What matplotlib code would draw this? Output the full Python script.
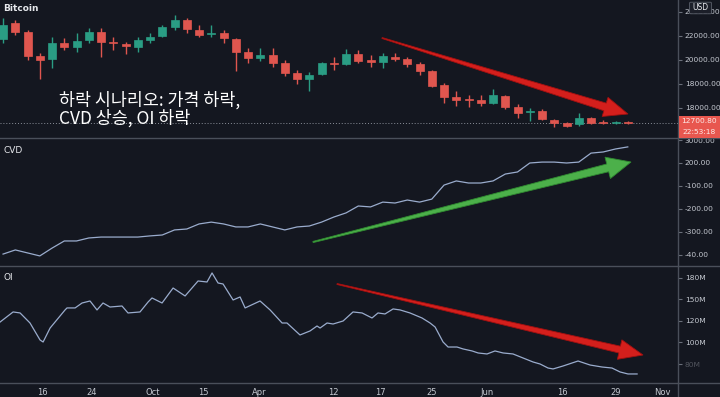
import matplotlib
matplotlib.use("Agg")
import matplotlib.pyplot as plt
from matplotlib.patches import Rectangle, Polygon, FancyBboxPatch
import numpy as np

# ---- data ----
# candles: open, high, low, close
opens = [21750, 23083, 22333, 20333, 20083, 21417, 21083, 21667, 22333, 21500,
         21333, 21083, 21667, 22000, 22750, 23333, 22500, 22170, 22250, 21750,
         20667, 20167, 20417, 19750, 18917, 18417, 18833, 19750, 19667, 20500,
         20000, 19833, 20250, 20083, 19667, 19083, 17917, 16917, 16750, 16667,
         16417, 17000, 16083, 15667, 15750, 15000, 14750, 14667, 15167, 14833,
         14750, 14833]
highs = [23500, 23333, 22500, 20583, 21917, 21833, 22250, 22667, 22667, 21917,
         21500, 21917, 22250, 22917, 23750, 23500, 22917, 22917, 22500, 21833,
         21000, 21000, 21000, 20000, 19167, 19000, 19833, 20250, 20917, 20833,
         20417, 20583, 20583, 20250, 19833, 19167, 18083, 17417, 17083, 17083,
         17583, 17083, 16333, 16000, 15917, 15083, 14833, 15583, 15250, 15000,
         14917, 14917]
lows = [21417, 22083, 20000, 18417, 19333, 20833, 20667, 21417, 20250, 20833,
        20500, 20667, 21417, 21917, 22500, 22250, 21917, 21917, 21417, 19083,
        19750, 19917, 19417, 18667, 18000, 17417, 18750, 19167, 19583, 19750,
        19417, 19333, 19917, 19417, 18750, 17750, 16417, 16167, 16083, 16167,
        16333, 15917, 15167, 14917, 15000, 14417, 14417, 14500, 14667, 14667,
        14667, 14667]
closes = [22917, 22333, 20333, 20000, 21417, 21083, 21583, 22333, 21500, 21417,
          21167, 21667, 21917, 22750, 23333, 22583, 22083, 22250, 21833, 20667,
          20167, 20417, 19750, 18917, 18417, 18750, 19750, 19667, 20500, 19917,
          19833, 20333, 20083, 19667, 19083, 17833, 16917, 16667, 16667, 16417,
          17083, 16083, 15583, 15750, 15083, 14750, 14500, 15167, 14750, 14750,
          14833, 14750]

cvd = [-196, -178, -191, -204, -170, -139, -139, -126, -122, -122,
       -122, -122, -117, -113, -91, -87, -65, -57, -65, -78,
       -78, -65, -78, -91, -78, -74, -57, -35, -17, 13,
       9, 30, 26, 39, 30, 43, 104, 122, 113, 113,
       122, 152, 161, 200, 204, 204, 200, 204, 243, 248,
       261, 270]

oi_t = [-0.24, 0.82, 1.39, 2.20, 3.02, 3.27, 3.84, 5.06, 5.22, 5.88,
        6.45, 7.10, 7.67, 8.16, 8.73, 9.71, 10.20, 11.18, 11.84, 12.16,
        12.98, 13.88, 14.86, 15.92, 16.65, 17.06, 17.55, 17.96, 18.78, 19.35,
        19.76, 20.98, 21.80, 22.78, 23.18, 24.24, 25.06, 25.63, 25.88, 26.45,
        26.94, 27.76, 28.57, 29.31, 30.12, 30.61, 31.18, 31.84, 32.41, 33.22,
        34.20, 34.86, 35.27, 35.92, 36.33, 37.06, 37.55, 38.29, 38.78, 39.51,
        40.16, 40.82, 41.63, 42.45, 43.27, 43.84, 44.49, 44.90, 45.71, 46.94,
        47.92, 48.90, 49.71, 50.37, 51.02, 51.76]
oi = [118.6, 132.6, 131.2, 117.2, 93.5, 90.7, 110.2, 135.4, 138.2, 138.2,
      145.1, 147.9, 135.4, 145.1, 139.5, 140.9, 131.2, 132.6, 146.5, 152.1,
      145.1, 166.0, 154.9, 175.8, 174.4, 187.0, 173.0, 171.6, 149.3, 153.5,
      138.2, 147.9, 135.4, 117.2, 117.2, 100.5, 106.1, 113.0, 110.2, 117.2,
      115.8, 120.0, 132.6, 131.2, 124.2, 131.2, 129.8, 136.8, 135.4, 131.2,
      124.2, 117.2, 111.6, 90.7, 83.7, 83.7, 81.0, 78.2, 75.4, 74.0,
      78.2, 75.4, 74.0, 68.4, 62.8, 60.0, 54.4, 53.1, 57.2, 64.2,
      58.6, 55.8, 54.4, 48.9, 46.1, 46.1]

x_ticks = [3.18, 7.27, 12.24, 16.33, 20.9, 26.94, 30.78, 35.02, 39.51, 45.63, 50.04, 53.8]
x_labels = ["16", "24", "Oct", "15", "Apr", "12", "17", "25", "Jun", "16", "29", "Nov"]

price_ticks = [24000, 22000, 20000, 18000, 16000]
price_labels = ["20000.00", "22000.00", "20000.00", "18000.00", "18000.00"]
cvd_ticks = [300, 200, 100, 0, -100, -200]
cvd_labels = ["3000.00", "200.00", "-100.00", "-200.00", "-300.00", "-40.00"]
oi_ticks = [180, 150, 120, 90, 60]
oi_labels = ["180M", "150M", "120M", "100M", "80M"]

title_text = "하락 시나리오: 가격 하락,\nCVD 상승, OI 하락"

# ---- style ----
BG = "#141720"
TXT = "#c4c8d0"
GREEN = "#2a9d84"
RED = "#e0564f"
LINE = "#9aaccd"
DIV = "#4a4f5a"
W, H = 720, 397


def px(x, y):
    return (x / W, 1 - y / H)


def make_ax(fig, y0, y1):
    ax = fig.add_axes([0, 1 - y1 / H, 678 / W, (y1 - y0) / H])
    ax.set_facecolor(BG)
    for s in ax.spines.values():
        s.set_visible(False)
    ax.yaxis.tick_right()
    ax.tick_params(axis="y", colors="#6a6f7a", labelcolor=TXT, labelsize=5.4, length=3, pad=2)
    ax.tick_params(axis="x", bottom=False, labelbottom=False)
    ax.set_xlim(-0.25, 55.1)
    return ax


def arrow(fig, tail, tip, w0, w1, hw, hl, color, edge):
    t = np.array(tail, float)
    p = np.array(tip, float)
    d = (p - t) / np.linalg.norm(p - t)
    n = np.array([-d[1], d[0]])
    b = p - d * hl
    pts = [t + n * w0 / 2, b + n * w1 / 2, b + n * hw / 2, p,
           b - n * hw / 2, b - n * w1 / 2, t - n * w0 / 2]
    pts = [px(q[0], q[1]) for q in pts]
    fig.add_artist(Polygon(pts, closed=True, transform=fig.transFigure,
                           facecolor=color, edgecolor=edge, lw=0.6, zorder=20))


fig = plt.figure(figsize=(7.2, 3.97), dpi=100)
fig.patch.set_facecolor(BG)

# price panel
ax1 = make_ax(fig, 0, 137)
idx = np.arange(len(opens))
o = np.array(opens); c = np.array(closes)
cols = [GREEN if cc >= oo else RED for oo, cc in zip(o, c)]
ax1.vlines(idx, lows, highs, colors=cols, lw=1)
body = np.maximum(np.abs(c - o), 40)
ax1.bar(idx, body, bottom=np.minimum(o, c), width=0.65, color=cols,
        edgecolor=cols, lw=0.5, zorder=3)
ax1.set_ylim(13583, 25000)
ax1.set_yticks(price_ticks)
ax1.set_yticklabels(price_labels)
ax1.axhline(closes[-1], color="#8a8f99", lw=0.7, ls=(0, (1, 2)))
ax1.text(0.005, 0.94, "Bitcoin", transform=ax1.transAxes, color="#e6e8ec",
         fontsize=6.5, fontweight="bold", va="center")
ax1.text(59 / 678, 1 - 91 / 137, title_text, transform=ax1.transAxes,
         color="white", fontsize=12.5, fontweight="medium", va="top", linespacing=1.0,
         family=["Noto Sans CJK KR", "DejaVu Sans"], zorder=10)

# CVD panel
ax2 = make_ax(fig, 138, 265)
ax2.plot(idx, cvd, color=LINE, lw=0.9)
ax2.set_ylim(-243.5, 308.7)
ax2.set_yticks(cvd_ticks)
ax2.set_yticklabels(cvd_labels)
ax2.text(0.005, 0.9, "CVD", transform=ax2.transAxes, color="#e6e8ec", fontsize=6.5, va="center")

# OI panel
ax3 = make_ax(fig, 266, 382)
ax3.plot(oi_t, oi, color=LINE, lw=0.9)
ax3.set_ylim(34.9, 196.7)
ax3.set_yticks(oi_ticks)
ax3.set_yticklabels(oi_labels)
ax3.get_yticklabels()[-1].set_alpha(0.35)
ax3.text(0.005, 0.9, "OI", transform=ax3.transAxes, color="#e6e8ec", fontsize=6.5, va="center")
ax3.set_xticks(x_ticks)
ax3.set_xticklabels(x_labels)
ax3.tick_params(axis="x", bottom=False, labelbottom=True, labelcolor=TXT, labelsize=6, pad=1)

# dividers
for yy in [137.5, 265.5, 383]:
    fig.add_artist(plt.Line2D([0, 1], [px(0, yy)[1]] * 2, color=DIV, lw=1, transform=fig.transFigure))
fig.add_artist(plt.Line2D([678 / W] * 2, [0, 1], color=DIV, lw=1, transform=fig.transFigure))

# arrows
arrow(fig, (382, 38), (628, 114), 1.0, 8, 20, 24, "#d41f1c", "#a01010")
arrow(fig, (313, 242), (631, 162), 1.2, 8, 22, 24, "#4cb04a", "#2f8a30")
arrow(fig, (337, 284), (643, 355), 1.0, 7, 20, 24, "#d41f1c", "#a01010")

# price label and USD box
fig.add_artist(Rectangle(px(679, 138), 41 / W, 22 / H, transform=fig.transFigure,
                         facecolor="#e8574f", edgecolor="none", zorder=25))
fig.text(*px(699, 121.5), "12700.80", color="#fde8e6", fontsize=5.4, ha="center", va="center", zorder=26)
fig.text(*px(699, 131.5), "22:53:18", color="#fde8e6", fontsize=5.4, ha="center", va="center", zorder=26)
fig.add_artist(FancyBboxPatch(px(691, 13), 19 / W, 10 / H, boxstyle="round,pad=0.002",
                              transform=fig.transFigure, facecolor="#1c1f29",
                              edgecolor="#5a5f6a", lw=0.6, zorder=25))
fig.text(*px(700.5, 8), "USD", color="#e6e8ec", fontsize=5.5, ha="center", va="center", zorder=26)

fig.savefig("out.png", dpi=100, facecolor=BG)
